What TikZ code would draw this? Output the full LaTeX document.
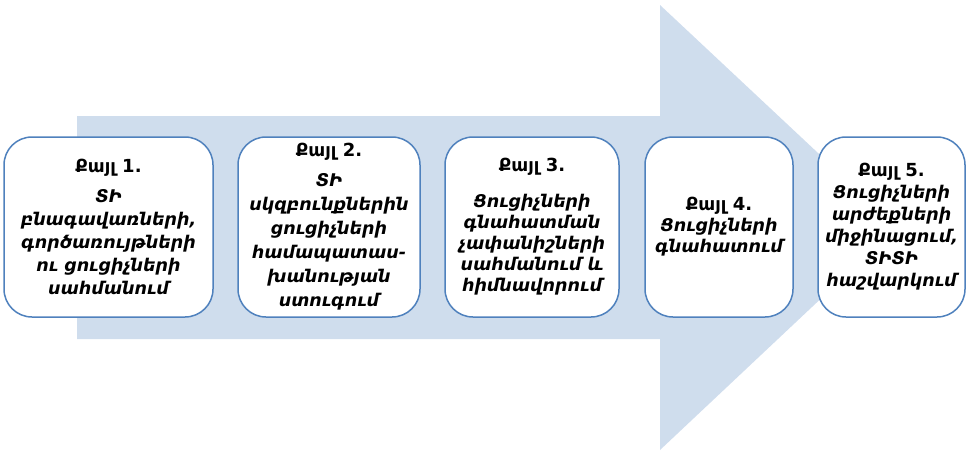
\documentclass[tikz,border=0pt]{standalone}
\usepackage{fontspec}
\setmainfont{DejaVu Sans}
\usepackage{tikz}
\definecolor{arrowfill}{RGB}{207,221,237}
\definecolor{boxline}{RGB}{79,129,189}

\newcommand{\stephead}[1]{{\fontsize{18}{22}\selectfont\normalfont\bfseries #1}}

\begin{document}
\begin{tikzpicture}[x=1pt,y=-1pt,
  stepbox/.style={draw=boxline, line width=1.5pt, fill=white, rounded corners=28pt,
    minimum height=180pt, inner sep=0pt, align=center,
    font=\fontsize{17.5}{#1}\selectfont\bfseries\itshape},
  stepbox/.default=22]
\useasboundingbox (0,0) rectangle (966,453);
% big arrow behind the steps
\coordinate (p1) at (77,116);
\coordinate (p2) at (660,116);
\coordinate (p3) at (660,5);
\coordinate (tip) at (897,227);
\coordinate (p4) at (660,450);
\coordinate (p5) at (660,339);
\coordinate (p6) at (77,339);
\fill[arrowfill] (p1)--(p2)--(p3)--(tip)--(p4)--(p5)--(p6)--cycle;
% steps
\node[stepbox=23, minimum width=209pt] (s1) at (108.5,227)
  {\stephead{Քայլ 1.}\\[7pt] ՏԻ\\ բնագավառների,\\ գործառույթների\\ ու ցուցիչների\\ սահմանում};
\node[stepbox=24, minimum width=182pt] (s2) at (329,227)
  {\stephead{Քայլ 2.}\\[6pt] ՏԻ\\ սկզբունքներին\\ ցուցիչների\\ համապատաս-\\ խանության\\ ստուգում};
\node[stepbox=21, minimum width=174pt] (s3) at (532,227)
  {\stephead{Քայլ 3.}\\[15pt] Ցուցիչների\\ գնահատման\\ չափանիշների\\ սահմանում և\\ հիմնավորում};
\node[stepbox=21, minimum width=148pt] (s4) at (719,227)
  {\stephead{Քայլ 4.}\\ Ցուցիչների\\ գնահատում};
\node[stepbox, minimum width=147pt] (s5) at (891.5,227)
  {\stephead{Քայլ 5.}\\ Ցուցիչների\\ արժեքների\\ միջինացում,\\ ՏԻՏԻ\\ հաշվարկում};
\end{tikzpicture}
\end{document}
